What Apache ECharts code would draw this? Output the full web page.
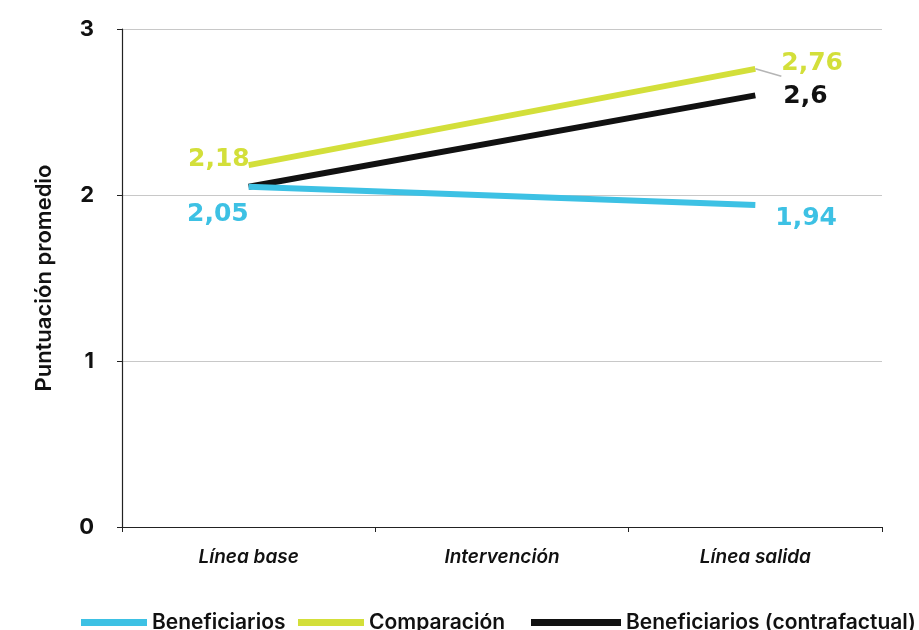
<!DOCTYPE html>
<html>
<head>
<meta charset="utf-8">
<script src="https://cdn.jsdelivr.net/npm/echarts@6/dist/echarts.min.js"></script>
<style>
  html, body { margin: 0; padding: 0; background: #fff; }
  #chart { width: 919px; height: 630px; }
</style>
</head>
<body>
<div id="chart"></div>
<script>
// Periods measured; the middle one has no observation, lines run straight across it
const categories = ['Línea base', 'Intervención', 'Línea salida'];

// Average scores per group
const beneficiarios = [2.05, null, 1.94];
const comparacion = [2.18, null, 2.76];
const contrafactual = [2.05, null, 2.6];

const yTicks = [0, 1, 2, 3];

const BLUE = '#3dc1e4';
const YELLOW = '#d3df3a';
const BLACK = '#111111';
const FONT = 'Inter, "Liberation Sans", sans-serif';
const NUM_FONT = '"DejaVu Sans", sans-serif';

const fmt = v => String(v).replace('.', ',');

// Attach label placement to the first and last point of a series
function withLabels(values, color, first, last) {
  return values.map((v, i) => {
    if (v === null) return null;
    const spec = i === 0 ? first : last;
    const item = {
      value: v,
      label: Object.assign({
        show: true,
        color: color,
        fontFamily: NUM_FONT,
        fontWeight: 'bold',
        fontSize: 25,
        formatter: p => fmt(p.value)
      }, spec.label)
    };
    if (spec.labelLine) item.labelLine = spec.labelLine;
    return item;
  });
}

function lineSeries(name, values, color, z, first, last) {
  return {
    name: name,
    type: 'line',
    data: withLabels(values, color, first, last),
    connectNulls: true,
    symbol: 'circle',
    showSymbol: true,
    symbolSize: 0,
    z: z,
    lineStyle: { color: color, width: 6, cap: 'butt' },
    itemStyle: { color: color },
    emphasis: { disabled: true }
  };
}

const chart = echarts.init(document.getElementById('chart'), null, { renderer: 'canvas' });

const legendText = { fontFamily: FONT, fontWeight: 600, fontSize: 21, color: '#111' };

chart.setOption({
  animation: false,
  grid: { left: 122, right: 37, top: 29, bottom: 103 },
  xAxis: {
    type: 'category',
    data: categories,
    boundaryGap: true,
    axisLine: { lineStyle: { color: '#222', width: 1.2 } },
    axisTick: { show: true, length: 5, lineStyle: { color: '#222' } },
    axisLabel: {
      margin: 21,
      fontFamily: FONT,
      fontStyle: 'italic',
      fontWeight: 600,
      fontSize: 19,
      color: '#111'
    }
  },
  yAxis: {
    type: 'value',
    min: yTicks[0],
    max: yTicks[yTicks.length - 1],
    interval: 1,
    name: 'Puntuación promedio',
    nameLocation: 'middle',
    nameRotate: 90,
    nameGap: 67,
    nameTextStyle: { fontFamily: FONT, fontWeight: 600, fontSize: 22, color: '#111' },
    axisLine: { show: true, lineStyle: { color: '#222', width: 1.2 } },
    axisTick: { show: true, length: 5, lineStyle: { color: '#222' } },
    axisLabel: {
      margin: 28,
      fontFamily: FONT,
      fontWeight: 700,
      fontSize: 22,
      color: '#111'
    },
    splitLine: { lineStyle: { color: '#c8c8c8', width: 1 } }
  },
  legend: [
    {
      data: ['Beneficiarios'], left: 76, top: 607,
      icon: 'rect', itemWidth: 66, itemHeight: 7, itemGap: 10,
      textStyle: legendText
    },
    {
      data: ['Comparación'], left: 293, top: 607,
      icon: 'rect', itemWidth: 66, itemHeight: 7, itemGap: 10,
      textStyle: legendText
    },
    {
      data: ['Beneficiarios (contrafactual)'], left: 526, top: 607,
      icon: 'rect', itemWidth: 90, itemHeight: 7, itemGap: 10,
      textStyle: legendText
    }
  ],
  series: [
    lineSeries('Comparación', comparacion, YELLOW, 2,
      { label: { position: 'left', distance: 2, offset: [3, -6] } },
      {
        label: { position: 'right', distance: 26, offset: [0, -5] },
        labelLine: { show: true, lineStyle: { color: '#b5b5b5', width: 1.5 } }
      }),
    lineSeries('Beneficiarios (contrafactual)', contrafactual, BLACK, 3,
      { label: { show: false } },
      { label: { position: 'right', distance: 28, offset: [0, 1] } }),
    lineSeries('Beneficiarios', beneficiarios, BLUE, 4,
      { label: { position: 'left', distance: 0, offset: [0, 28] } },
      { label: { position: 'right', distance: 20, offset: [0, 14] } })
  ]
});
</script>
</body>
</html>
